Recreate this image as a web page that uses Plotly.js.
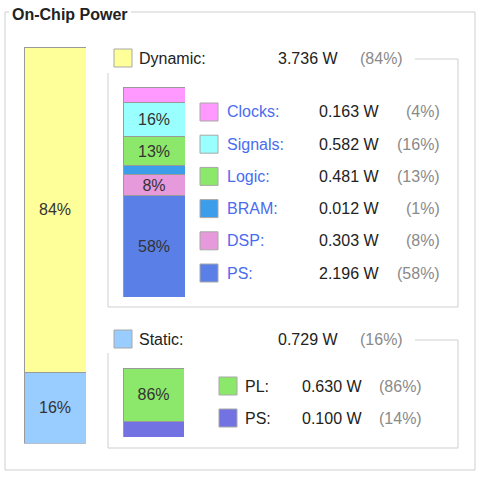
<!DOCTYPE html>
<html>
<head>
<meta charset="utf-8">
<script src="https://cdn.plot.ly/plotly-3.0.1.min.js"></script>
<style>
  html, body { margin: 0; padding: 0; background: #fff; }
  #chart { width: 480px; height: 477px; }
</style>
</head>
<body>
<div id="chart"></div>
<script>
// on-chip power summary
const totalNames = ['Dynamic', 'Static'];
const totalWatts = [3.736, 0.729];
const totalPct = [84, 16];
const totalBarShare = [82, 18];        // drawn slice heights of the left bar, % of bar

const dynamicNames = ['Clocks', 'Signals', 'Logic', 'BRAM', 'DSP', 'PS'];
const dynamicWatts = [0.163, 0.582, 0.481, 0.012, 0.303, 2.196];
const dynamicPct = [4, 16, 13, 1, 8, 58];
const dynamicBarShare = [7.6, 16.2, 13.8, 4.3, 10, 48.1];   // drawn slice heights, % of bar
const dynamicBarLabels = ['', '16%', '13%', '', '8%', '58%'];

const staticNames = ['PL', 'PS'];
const staticWatts = [0.630, 0.100];
const staticPct = [86, 14];
const staticBarShare = [77, 23];
const staticBarLabels = ['86%', ''];

const colours = {
    Dynamic: '#FFFF99',
    Static : '#99CCFF',
    Clocks : '#FF99FF',
    Signals: '#99FFFF',
    Logic  : '#8CE86A',
    BRAM   : '#3C9DEA',
    DSP    : '#E699DB',
    PS     : '#5A7FE6',
    PL     : '#8CE86A',
    PSs    : '#7272E2'
};

const FONT = 'Liberation Sans, Arial, sans-serif';
const W = 480, H = 477;
const px = function (x) { return x / W; };
const py = function (y) { return 1 - y / H; };

var data = [];
var shapes = [];
var annotations = [];

// one stacked column per subplot, first item on top
function addColumn(names, shares, labels, cols, axisSuffix) {
    for (var i = names.length - 1; i >= 0; i--) {
        data.push({
            type: 'bar',
            x: [0],
            y: [shares[i]],
            width: 1,
            xaxis: 'x' + axisSuffix,
            yaxis: 'y' + axisSuffix,
            marker: { color: cols[i], line: { color: '#9a9a9a', width: 1 } },
            text: [labels[i]],
            textposition: 'inside',
            insidetextanchor: 'middle',
            constraintext: 'none',
            textfont: { family: FONT, size: 16, color: '#333' },
            hoverinfo: 'skip',
            showlegend: false
        });
    }
}

addColumn(totalNames, totalBarShare, totalPct.map(p => p + '%'),
          [colours.Dynamic, colours.Static], '');
addColumn(dynamicNames, dynamicBarShare, dynamicBarLabels,
          dynamicNames.map(n => colours[n]), '2');
addColumn(staticNames, staticBarShare, staticBarLabels,
          [colours.PL, colours.PSs], '3');

function swatch(x, y, colour) {
    shapes.push({
        type: 'rect', xref: 'paper', yref: 'paper',
        x0: px(x), x1: px(x + 18), y0: py(y - 9), y1: py(y + 9),
        fillcolor: colour, line: { color: '#a8a8a8', width: 1 }
    });
}

function label(x, y, text, colour, anchor, bold) {
    annotations.push({
        xref: 'paper', yref: 'paper', x: px(x), y: py(y),
        xanchor: anchor || 'left', yanchor: 'middle',
        text: bold ? '<b>' + text + '</b>' : text,
        showarrow: false,
        font: { family: FONT, size: 16, color: colour }
    });
}

function framePath(pts) {
    return pts.map((p, i) => (i ? 'L' : 'M') + px(p[0]) + ',' + py(p[1])).join(' ');
}

// outer group frame
shapes.push({
    type: 'path', xref: 'paper', yref: 'paper',
    path: framePath([[131, 12], [475, 12], [475, 470], [5, 470], [5, 12], [9, 12]]),
    line: { color: '#cfcfcf', width: 1 }
});
label(10, 15, 'On-Chip Power', '#222', 'left', true);

// dynamic / static group frames
shapes.push({
    type: 'path', xref: 'paper', yref: 'paper',
    path: framePath([[108, 73], [108, 307], [458, 307], [458, 59], [415, 59]]),
    line: { color: '#cfcfcf', width: 1 }
});
shapes.push({
    type: 'path', xref: 'paper', yref: 'paper',
    path: framePath([[108, 353], [108, 448], [458, 448], [458, 340], [415, 340]]),
    line: { color: '#cfcfcf', width: 1 }
});

// headers
var headerY = [58, 339];
totalNames.forEach(function (n, i) {
    swatch(114, headerY[i], colours[n]);
    label(137, headerY[i], n + ':', '#222');
    label(276, headerY[i], totalWatts[i].toFixed(3) + ' W', '#222');
    label(358, headerY[i], '(' + totalPct[i] + '%)', '#8a8a8a');
});

// dynamic rows
dynamicNames.forEach(function (n, i) {
    var y = 112 + i * 32.2;
    swatch(200, y, colours[n]);
    label(225, y, n + ':', '#4a6cf0');
    label(317, y, dynamicWatts[i].toFixed(3) + ' W', '#222');
    label(442, y, '(' + dynamicPct[i] + '%)', '#8a8a8a', 'right');
});

// static rows
staticNames.forEach(function (n, i) {
    var y = 386 + i * 32;
    swatch(219, y, i === 0 ? colours.PL : colours.PSs);
    label(243, y, n + ':', '#222');
    label(300, y, staticWatts[i].toFixed(3) + ' W', '#222');
    label(424, y, '(' + staticPct[i] + '%)', '#8a8a8a', 'right');
});

function hiddenAxis(domain, range) {
    return { domain: domain, range: range, visible: false, fixedrange: true };
}

var layout = {
    width: W,
    height: H,
    margin: { l: 0, r: 0, t: 0, b: 0 },
    paper_bgcolor: '#fff',
    plot_bgcolor: 'rgba(0,0,0,0)',
    barmode: 'stack',
    bargap: 0,
    showlegend: false,
    hovermode: false,
    xaxis : hiddenAxis([px(24), px(86)], [-0.5, 0.5]),
    yaxis : hiddenAxis([py(443.5), py(47)], [0, 100]),
    xaxis2: hiddenAxis([px(123), px(185)], [-0.5, 0.5]),
    yaxis2: hiddenAxis([py(297), py(87)], [0, 100]),
    xaxis3: hiddenAxis([px(123), px(184)], [-0.5, 0.5]),
    yaxis3: hiddenAxis([py(437), py(368)], [0, 100]),
    shapes: shapes,
    annotations: annotations
};

Plotly.newPlot('chart', data, layout, { staticPlot: true, displayModeBar: false });
</script>
</body>
</html>
